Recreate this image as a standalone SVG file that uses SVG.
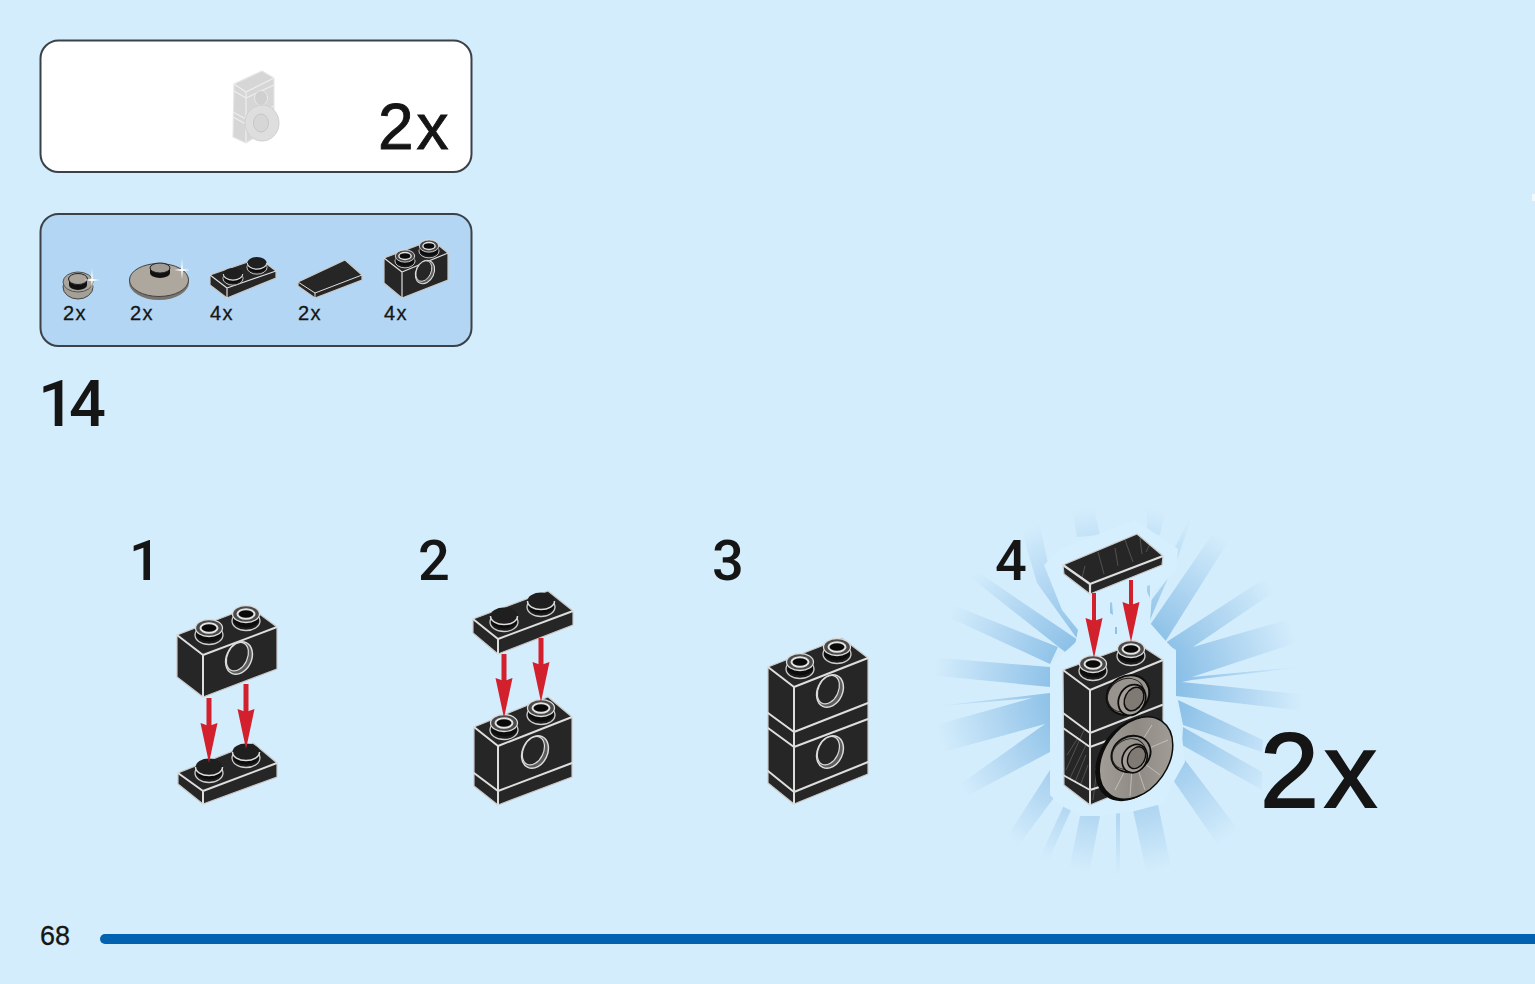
<svg xmlns="http://www.w3.org/2000/svg" xmlns:xlink="http://www.w3.org/1999/xlink" width="1535" height="984" viewBox="0 0 1535 984">
<style>
.panel{stroke:#3b4147;stroke-width:2}
.t{font-family:"Liberation Sans",Arial,sans-serif;fill:#151515;stroke:#151515}
.n{font-family:Roboto,"Liberation Sans",sans-serif;font-weight:500;fill:#151515}
.f{fill:#262626;stroke:#c9c9c9;stroke-width:1.2;stroke-linejoin:round}
.e{fill:none;stroke:#dedede;stroke-width:2;stroke-linecap:round;stroke-linejoin:round}
.g{fill:#d6d6d6;stroke:#e6e6e6;stroke-width:1.2;stroke-linejoin:round}
.gl{fill:none;stroke:#ededed;stroke-width:1.2}
.ar{stroke:#d2202c;stroke-width:5;fill:none}
.st{stroke:#fff;stroke-width:.5;opacity:.4;fill:none}
.ray{fill:url(#rayfade)}
</style>
<defs>
<radialGradient id="rayfade" gradientUnits="userSpaceOnUse" cx="1118" cy="690" r="195">
<stop offset="0.32" stop-color="#8bc0e7"/>
<stop offset="0.65" stop-color="#b2d7f2"/>
<stop offset="0.95" stop-color="#d4edfc"/>
</radialGradient>
<linearGradient id="metal" x1="0" y1="0" x2="1" y2="1">
<stop offset="0" stop-color="#aaa59e"/><stop offset=".5" stop-color="#8f8a83"/><stop offset="1" stop-color="#a8a39c"/>
</linearGradient>
<marker id="head" markerUnits="userSpaceOnUse" markerWidth="44" markerHeight="20" refX="24" refY="10" orient="auto">
<path d="M0,1.5 L40,10 L0,18.5 L3,10 Z" fill="#d2202c"/>
</marker>
<g id="stud-h">
<ellipse cx="0" cy="7" rx="14" ry="9.5" fill="#1c1c1c" stroke="#cfcfcf" stroke-width="1.3"/>
<path d="M-13,0 V5 A13,8.5 0 0 0 13,5 V0 Z" fill="#0c0c0c"/>
<ellipse cx="0" cy="0" rx="13.5" ry="8.5" fill="#4a4a4a" stroke="#dcdcdc" stroke-width="1.3"/>
<ellipse cx="0" cy="0" rx="8.5" ry="4.8" fill="#0a0a0a" stroke="#e3e3e3" stroke-width="2"/>
</g>
<g id="stud-s">
<ellipse cx="0" cy="6" rx="14" ry="9.5" fill="#1c1c1c" stroke="#cfcfcf" stroke-width="1.3"/>
<path d="M-13,0 V4 A13,8.5 0 0 0 13,4 V0 Z" fill="#0c0c0c"/>
<path d="M-13.5,0 A13.5,8.5 0 0 1 13.5,0 A13.5,8.5 0 0 1 -13.5,0 Z" fill="#1f1f1f"/>
<path d="M-13.5,0 A13.5,8.5 0 0 0 13.5,0" fill="none" stroke="#dcdcdc" stroke-width="1.5"/>
</g>
<g id="hole">
<g transform="rotate(25)">
<ellipse cx="0" cy="0" rx="12.5" ry="17" fill="#5d5d5d" stroke="#dcdcdc" stroke-width="1.5"/>
<ellipse cx="-2" cy="-.5" rx="10" ry="15" fill="#262626" stroke="#dcdcdc" stroke-width="1.2"/>
</g>
</g>
<g id="boss">
<ellipse cx="0" cy="0" rx="22" ry="19" transform="rotate(-30)" fill="#98938c" stroke="#0d0d0d" stroke-width="2"/>
<ellipse cx="-2" cy="-1" rx="19" ry="16" transform="rotate(-30)" fill="none" stroke="#222" stroke-width="1"/>
<ellipse cx="4" cy="5" rx="13" ry="16" transform="rotate(28 4 5)" fill="#a39e97" stroke="#0d0d0d" stroke-width="1.8"/>
<ellipse cx="6" cy="4" rx="9" ry="12.5" transform="rotate(28 6 4)" fill="#7f7a74" stroke="#0d0d0d" stroke-width="1.5"/>
</g>
<g id="sparkle">
<path d="M0,-12 L.8,-1 L8,0 L.8,1 L0,9 L-.8,1 L-8,0 L-.8,-1 Z" fill="#fff"/>
</g>
</defs>

<rect width="1535" height="984" fill="#d4edfc"/>
<rect x="1532" y="194" width="3" height="7" fill="#f2f9fe"/>

<g id="panel-assembly">
<rect class="panel" x="40.5" y="40.5" width="431" height="131.500" rx="18" fill="#fff"/>
<g id="ghost-model">
<path class="g" d="M234,84 L262,71 L274,78 V125 L246,143 L233,137 Z"/>
<path class="gl" d="M234,84 L246,92 L274,78 M234,91 L246,98 L274,85 M246,92 V143 M233,112 L246,119 L274,106 M233,117 L246,124 L262,116"/>
<ellipse cx="261" cy="98" rx="6.500" ry="7.500" fill="#d0d0d0" stroke="#e8e8e8"/>
<ellipse cx="262" cy="123" rx="17" ry="18" fill="#dedede" stroke="#d0d0d0"/>
<ellipse cx="261" cy="123" rx="7.500" ry="9" fill="#d6d6d6" stroke="#c6c6c6"/>
</g>
<text class="t" x="378" y="149" font-size="64" letter-spacing="3" stroke-width=".9">2x</text>
</g>

<g id="panel-parts">
<rect class="panel" x="40.5" y="214" width="431" height="132" rx="18" fill="#b2d6f3"/>
<g id="part-round-plate">
<ellipse cx="78" cy="287" rx="15" ry="12" fill="#a5a097" stroke="#444" stroke-width="1"/>
<ellipse cx="78" cy="282" rx="15" ry="10" fill="#aaa59d" stroke="#555" stroke-width="1"/>
<path d="M69,280 V285 A9,5 0 0 0 87,285 V280 Z" fill="#111"/>
<ellipse cx="78" cy="279" rx="9.500" ry="5.500" fill="#a9a49c" stroke="#222"/>
<use href="#sparkle" x="92" y="280"/>
</g>
<g id="part-dish">
<ellipse cx="159" cy="282" rx="30" ry="18" fill="#77736d"/>
<ellipse cx="159" cy="280" rx="29.500" ry="16.500" fill="#aea79e" stroke="#444"/>
<path d="M150,268 V273 A10,5 0 0 0 170,273 V268 Z" fill="#111"/>
<ellipse cx="160" cy="268" rx="10" ry="5" fill="#a09b94" stroke="#222"/>
<use href="#sparkle" x="182" y="270"/>
</g>
<g id="part-plate">
<path class="f" d="M210,275 L259,258 L276,271 V278 L227,298 L210,285 Z"/>
<path class="e" d="M210,275 L227,288 L276,271 M227,288 V298" style="stroke-width:1.2"/>
<use href="#stud-s" transform="translate(233,274) scale(.72)"/>
<use href="#stud-s" transform="translate(257,263) scale(.72)"/>
</g>
<g id="part-tile">
<path class="f" d="M298,282 L345,260 L362,275 V280 L315,298 L298,286 Z"/>
<path class="e" d="M298,282 L315,293 L362,275 M315,293 V298" style="stroke-width:1"/>
</g>
<g id="part-brick">
<path class="f" d="M384,258 L432,240 L448,253 V280 L402,298 L384,283 Z"/>
<path class="e" d="M384,258 L402,272 L448,253 M402,272 V298" style="stroke-width:1.2"/>
<use href="#stud-h" transform="translate(405,256) scale(.72)"/>
<use href="#stud-h" transform="translate(429,246) scale(.72)"/>
<use href="#hole" transform="translate(425,272) scale(.72)"/>
</g>
<text class="t" x="63" y="320" font-size="20" letter-spacing="1.500" stroke-width=".3">2x</text>
<text class="t" x="130" y="320" font-size="20" letter-spacing="1.500" stroke-width=".3">2x</text>
<text class="t" x="210" y="320" font-size="20" letter-spacing="1.500" stroke-width=".3">4x</text>
<text class="t" x="298" y="320" font-size="20" letter-spacing="1.500" stroke-width=".3">2x</text>
<text class="t" x="384" y="320" font-size="20" letter-spacing="1.500" stroke-width=".3">4x</text>
</g>

<text id="step-number" class="n" x="38" y="426" font-size="65" letter-spacing="-6">14</text>
<text id="sub-1" class="n" x="129" y="580" font-size="56">1</text>
<text id="sub-2" class="n" x="418" y="580" font-size="56">2</text>
<text id="sub-3" class="n" x="712" y="580" font-size="56">3</text>
<text id="sub-4" class="n" x="995" y="580" font-size="56">4</text>

<g id="burst">
<polygon class="ray" points="972,568 1078,640 1065,652 970,577"/>
<polygon class="ray" points="948,603 1058,647 1050,664 948,617"/>
<polygon class="ray" points="928,657 1050,667 1050,687 928,675"/>
<polygon class="ray" points="1050,693 928,707 1032,698 925,728 925,757 1045,724 945,795 950,805 1050,752"/>
<polygon class="ray" points="1050,770 1003,843 1015,850 1056,795"/>
<polygon class="ray" points="1064,805 1072,808 1045,868 1036,866"/>
<polygon class="ray" points="1080,816 1100,816 1087,885 1066,885"/>
<polygon class="ray" points="1116,810 1120,810 1120,885 1116,885"/>
<polygon class="ray" points="1133,810 1157,800 1175,885 1149,885"/>
<polygon class="ray" points="1185,760 1173,780 1225,855 1250,845"/>
<polygon class="ray" points="1183,727 1262,772 1262,790 1182,745"/>
<polygon class="ray" points="1178,700 1263,740 1262,752 1183,725"/>
<polygon class="ray" points="1165,643 1273,573 1287,583 1193,647 1320,610 1320,635 1192,677 1320,665 1192,680 1182,682 1320,696 1320,713 1176,696 1176,650"/>
<polygon class="ray" points="1150,625 1222,520 1242,520 1165,642"/>
<polygon class="ray" points="1175,547 1196,505 1177,560"/>
<polygon class="ray" points="1150,602 1168,578 1150,620"/>
<polygon class="ray" points="1068,490 1090,490 1100,535 1077,537"/>
<polygon class="ray" points="1147,490 1170,490 1160,535 1147,533"/>
<polygon class="ray" points="1020,525 1040,525 1052,583 1078,612 1078,640 1037,583"/>
<path d="M1050,667 L1060,655 L1075,645 L1078,630 L1062,610 L1052,585 L1044,565 L1060,549 L1135,520 L1178,549 L1176,572 L1152,592 L1150,623 L1165,640 L1176,652 L1176,700 L1183,745 L1185,762 L1172,785 L1165,803 L1135,811 L1100,816 L1080,815 L1060,805 L1050,795 Z" fill="#d6effe"/>
<polygon class="ray" points="1110,603 1112,602 1113,615 1110,613"/>
<polygon class="ray" points="1115,627 1117,627 1117,634 1115,634"/>
<polygon class="ray" points="1147,586 1150,585 1150,598 1147,592"/>
</g>

<g id="step-1-brick">
<path class="f" d="M177,635 L250,607 L277,627 V669 L203,697 L177,677 Z"/>
<path class="e" d="M177,635 L203,655 L277,627 M203,655 V697"/>
<use href="#stud-h" transform="translate(209,628)"/>
<use href="#stud-h" transform="translate(246,614)"/>
<use href="#hole" transform="translate(239,658)"/>
</g>
<g id="step-1-plate">
<path class="f" d="M178,773 L253,743 L277,763 V777 L203,804 L178,784 Z"/>
<path class="e" d="M178,773 L203,791 L277,763 M203,791 V804"/>
<use href="#stud-s" transform="translate(209,767)"/>
<use href="#stud-s" transform="translate(246,752)"/>
</g>

<g id="step-2-plate">
<path class="f" d="M473,619 L548,591 L573,611 V625 L498,654 L473,633 Z"/>
<path class="e" d="M473,619 L498,639 L573,611 M498,639 V654"/>
<use href="#stud-s" transform="translate(504,616)"/>
<use href="#stud-s" transform="translate(541,601)"/>
</g>
<g id="step-2-brick">
<path class="f" d="M474,727 L548,697 L572,717 V777 L498,805 L474,786 Z"/>
<path class="e" d="M474,727 L498,746 L572,717 M498,746 V805 M474,773 L498,791 L572,763"/>
<use href="#stud-h" transform="translate(504,723)"/>
<use href="#stud-h" transform="translate(541,708)"/>
<use href="#hole" transform="translate(535,752)"/>
</g>

<g id="step-3-stack">
<path class="f" d="M768,667 L842,638 L868,658 V774 L794,804 L768,783 Z"/>
<path class="e" d="M768,667 L794,687 L868,658 M794,687 V804 M768,713 L794,732 L868,703 M768,728 L794,747 L868,719 M768,771 L794,792 L868,762"/>
<use href="#stud-h" transform="translate(800,662)"/>
<use href="#stud-h" transform="translate(837,647)"/>
<use href="#hole" transform="translate(830,691)"/>
<use href="#hole" transform="translate(830,752)"/>
</g>

<g id="step-4-tile">
<path class="f" d="M1063,565 L1137,534 L1163,556 L1162,565 L1090,594 L1064,574 Z"/>
<path class="e" d="M1063,565 L1090,584 L1163,556 M1090,584 V594" style="stroke-width:2.2"/>
<path class="st" d="M1085,566 L1082,578 M1098,552 L1104,574 M1115,548 L1118,566 M1125,540 L1133,562 M1140,538 L1142,554 M1150,544 L1146,552"/>
</g>
<g id="step-4-assembly">
<path class="f" d="M1063,670 L1137,643 L1163,660 V775 L1090,805 L1064,785 Z"/>
<path class="e" d="M1063,670 L1090,690 L1163,660 M1090,690 V805 M1063,713 L1090,733 L1162,705 M1063,728 L1090,747 L1120,736 M1063,775 L1090,790 L1115,782"/>
<path class="st" d="M1066,770 L1084,730 M1070,778 L1086,745 M1075,782 L1086,755 M1080,786 L1088,765 M1067,755 L1078,738 M1093,800 L1098,760 M1095,770 L1110,745"/>
<use href="#stud-h" transform="translate(1093,664)"/>
<use href="#stud-h" transform="translate(1131,649)"/>
<use href="#boss" transform="translate(1128,695)"/>
<ellipse cx="1133" cy="759" rx="46" ry="33" transform="rotate(-55 1133 759)" fill="#0d0d0d"/>
<ellipse cx="1136" cy="758" rx="45" ry="32" transform="rotate(-55 1136 758)" fill="url(#metal)" stroke="#0d0d0d" stroke-width="1.500"/>
<path class="st" d="M1133,755 L1115,790 M1133,755 L1130,796 M1133,755 L1145,790 M1133,755 L1160,775 M1133,755 L1168,740 M1133,755 L1152,725" style="stroke-width:1"/>
<use href="#boss" transform="translate(1131,754) scale(.92)"/>
</g>

<g id="connectors">
<line class="ar" x1="209" y1="698" x2="209" y2="747" marker-end="url(#head)"/>
<line class="ar" x1="246" y1="684" x2="246" y2="733" marker-end="url(#head)"/>
<line class="ar" x1="504" y1="654" x2="504" y2="702" marker-end="url(#head)"/>
<line class="ar" x1="541" y1="638" x2="541" y2="686" marker-end="url(#head)"/>
<line class="ar" x1="1094" y1="593" x2="1094" y2="642" style="stroke-width:4" marker-end="url(#head)"/>
<line class="ar" x1="1131" y1="580" x2="1131" y2="626" style="stroke-width:4" marker-end="url(#head)"/>
</g>

<text id="total-count" class="t" x="1260" y="807" font-size="106" letter-spacing="5" stroke-width="1.800">2x</text>

<g id="page-footer">
<text class="t" x="40" y="945" font-size="27" stroke-width=".3">68</text>
<path d="M105,934 H1535 V944 H105 A5,5 0 0 1 105,934 Z" fill="#0062b0"/>
</g>
</svg>
